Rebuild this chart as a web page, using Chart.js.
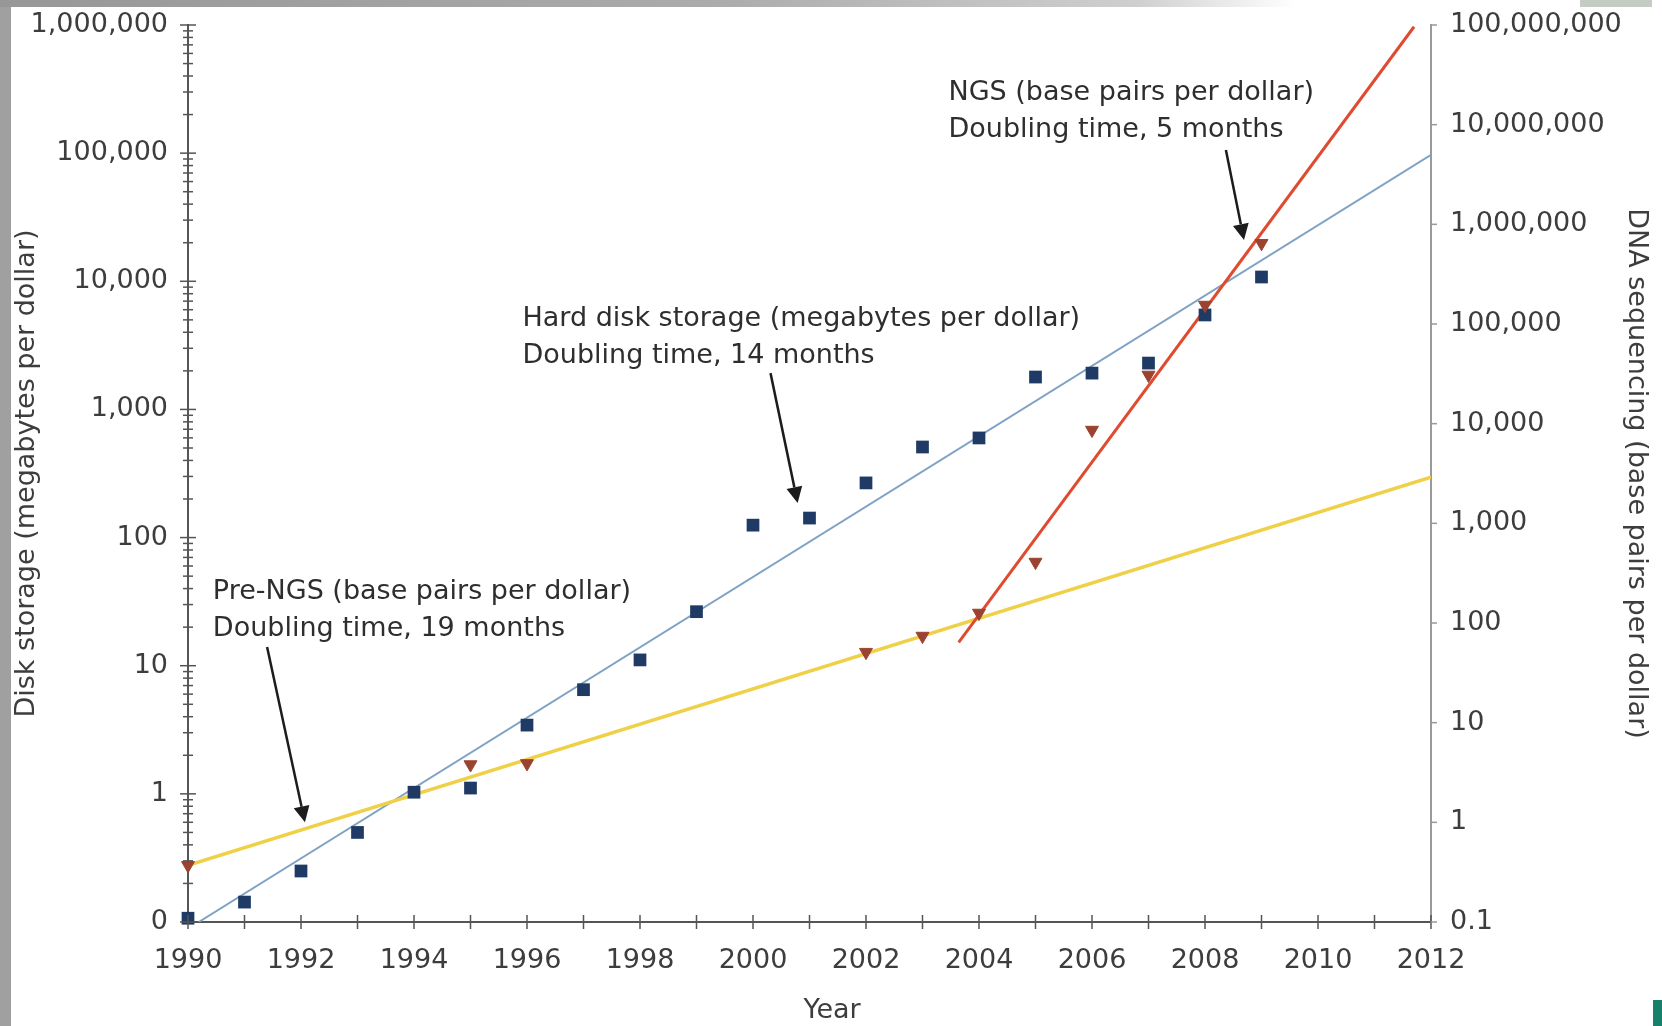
<!DOCTYPE html>
<html>
<head>
<meta charset="utf-8">
<title>Disk storage and DNA sequencing per dollar</title>
<script src="https://cdn.jsdelivr.net/npm/chart.js@4.4.1/dist/chart.umd.min.js"></script>
<style>
  html, body { margin: 0; padding: 0; background: #fff; overflow: hidden; }
  #wrap { position: relative; width: 1662px; height: 1026px; }
  .band-left { position: absolute; left: 0; top: 0; width: 11px; height: 1026px; background: #a0a0a0; }
  .band-top { position: absolute; left: 0; top: 0; width: 1580px; height: 7px;
    background: linear-gradient(to right, #979797, #ababab 45%, #cfcfcf 72%, #fff 82%); }
  .tag-top { position: absolute; left: 1580px; top: 0; width: 72px; height: 7px; background: #c4ccc4; }
  .tag-bottom { position: absolute; left: 1653px; top: 1000px; width: 9px; height: 26px; background: #14826a; }
  canvas { position: absolute; left: 0; top: 0; }
</style>
</head>
<body>
<div id="wrap">
  <div class="band-left"></div>
  <div class="band-top"></div>
  <div class="tag-top"></div>
  <div class="tag-bottom"></div>
  <canvas id="chart" width="1662" height="1026"></canvas>
</div>
<script>
// hard disk storage, megabytes per dollar (left axis)
const diskYears = [1990, 1991, 1992, 1993, 1994, 1995, 1996, 1997, 1998, 1999,
                   2000, 2001, 2002, 2003, 2004, 2005, 2006, 2007, 2008, 2009];
const diskMB = [0.107, 0.143, 0.25, 0.5, 1.03, 1.11, 3.44, 6.5, 11.1, 26.4,
                125, 142, 267, 509, 599, 1790, 1920, 2300, 5460, 10800];

// DNA sequencing, base pairs per dollar (right axis)
const dnaYears = [1990, 1995, 1996, 2002, 2003, 2004, 2005, 2006, 2007, 2008, 2009];
const dnaBP = [0.37, 3.8, 3.9, 51, 74, 126, 409, 8630, 30800, 155000, 646000];

// fitted lines, end points
const diskFitYears = [1990.19, 2012];
const diskFit = [0.1, 97000];
const preNgsFitYears = [1990, 2012];
const preNgsFit = [0.37, 2900];
const ngsFitYears = [2003.64, 2011.7];
const ngsFit = [64, 96000000];

const yearTicks = [1990, 1991, 1992, 1993, 1994, 1995, 1996, 1997, 1998, 1999, 2000, 2001,
                   2002, 2003, 2004, 2005, 2006, 2007, 2008, 2009, 2010, 2011, 2012];
const yearLabels = ['1990', '1992', '1994', '1996', '1998', '2000', '2002', '2004', '2006', '2008', '2010', '2012'];
const leftTicks = [0.1, 1, 10, 100, 1000, 10000, 100000, 1000000];
const leftLabels = ['0', '1', '10', '100', '1,000', '10,000', '100,000', '1,000,000'];
const rightTicks = [0.1, 1, 10, 100, 1000, 10000, 100000, 1000000, 10000000, 100000000];
const rightLabels = ['0.1', '1', '10', '100', '1,000', '10,000', '100,000', '1,000,000', '10,000,000', '100,000,000'];

// text notes, placed in data units (year, left axis value)
const notes = [
  { lines: ['Pre-NGS (base pairs per dollar)', 'Doubling time, 19 months'],
    at: [1990.44, 37.6], from: [1991.40, 14.0], to: [1992.07, 0.60] },
  { lines: ['Hard disk storage (megabytes per dollar)', 'Doubling time, 14 months'],
    at: [1995.92, 5080], from: [2000.31, 1920], to: [2000.79, 186] },
  { lines: ['NGS (base pairs per dollar)', 'Doubling time, 5 months'],
    at: [2003.46, 295000], from: [2008.37, 106000], to: [2008.69, 21000] }
];
const xTitle = { text: 'Year', at: 2001.4 };

const pts = (xs, ys) => xs.map((x, i) => ({ x: x, y: ys[i] }));
const same = (a, b) => Math.abs(a - b) < Math.abs(b) * 1e-9;

function withMinors(majors) {
  const out = [];
  majors.forEach((m, i) => {
    out.push(m);
    if (i < majors.length - 1) for (let k = 2; k <= 9; k++) out.push(m * k);
  });
  return out;
}

function arrow(ctx, x0, y0, x1, y1) {
  const a = Math.atan2(y1 - y0, x1 - x0), head = 16, half = 8;
  const bx = x1 - head * Math.cos(a), by = y1 - head * Math.sin(a);
  ctx.strokeStyle = '#1c1c1c';
  ctx.fillStyle = '#1c1c1c';
  ctx.lineWidth = 2.5;
  ctx.beginPath(); ctx.moveTo(x0, y0); ctx.lineTo(bx, by); ctx.stroke();
  ctx.beginPath();
  ctx.moveTo(x1, y1);
  ctx.lineTo(bx + half * Math.sin(a), by - half * Math.cos(a));
  ctx.lineTo(bx - half * Math.sin(a), by + half * Math.cos(a));
  ctx.closePath(); ctx.fill();
}

// vertical axes: keep label overhang from pushing the plot area down
function fixWidth(w) {
  return axis => { axis.width = w; axis.paddingTop = 0; axis.paddingBottom = 0; };
}

const extras = {
  id: 'extras',
  afterDraw(chart) {
    const { ctx, scales: { x, y, y2 } } = chart;
    ctx.save();
    // tick marks crossing the axes
    ctx.lineWidth = 1.5;
    ctx.strokeStyle = '#555';
    y.ticks.forEach(t => {
      const py = y.getPixelForValue(t.value);
      const len = leftTicks.some(v => same(t.value, v)) ? 8 : 5;
      ctx.beginPath(); ctx.moveTo(y.right - len, py); ctx.lineTo(y.right + len, py); ctx.stroke();
    });
    x.ticks.forEach(t => {
      const px = x.getPixelForValue(t.value);
      ctx.beginPath(); ctx.moveTo(px, x.top - 7); ctx.lineTo(px, x.top + 7); ctx.stroke();
    });
    ctx.strokeStyle = '#999';
    y2.ticks.forEach(t => {
      const py = y2.getPixelForValue(t.value);
      ctx.beginPath(); ctx.moveTo(y2.left, py); ctx.lineTo(y2.left + 6, py); ctx.stroke();
    });
    // x axis title
    ctx.font = '27px "DejaVu Sans"';
    ctx.fillStyle = '#3d3d3d';
    ctx.textAlign = 'center';
    ctx.textBaseline = 'middle';
    ctx.fillText(xTitle.text, x.getPixelForValue(xTitle.at), x.bottom - 15);
    // notes and arrows
    ctx.textAlign = 'left';
    notes.forEach(n => {
      const tx = x.getPixelForValue(n.at[0]), ty = y.getPixelForValue(n.at[1]);
      ctx.fillStyle = '#2e2e2e';
      n.lines.forEach((s, i) => ctx.fillText(s, tx, ty + i * 37));
      arrow(ctx, x.getPixelForValue(n.from[0]), y.getPixelForValue(n.from[1]),
                 x.getPixelForValue(n.to[0]), y.getPixelForValue(n.to[1]));
    });
    ctx.restore();
  }
};

Chart.defaults.font.family = '"DejaVu Sans"';
Chart.defaults.font.size = 27;
Chart.defaults.color = '#3d3d3d';

new Chart(document.getElementById('chart'), {
  type: 'scatter',
  data: {
    datasets: [
      { label: 'DNA sequencing', data: pts(dnaYears, dnaBP), yAxisID: 'y2', order: 0, clip: false,
        pointStyle: 'triangle', pointRotation: 180, pointRadius: 7.5,
        pointBackgroundColor: '#9c4230', pointBorderColor: '#9c4230', pointBorderWidth: 1 },
      { label: 'Disk storage', data: pts(diskYears, diskMB), yAxisID: 'y', order: 1, clip: false,
        pointStyle: 'rect', pointRadius: 9,
        pointBackgroundColor: '#1f3a64', pointBorderColor: '#1f3a64', pointBorderWidth: 0 },
      { label: 'NGS fit', data: pts(ngsFitYears, ngsFit), yAxisID: 'y2', order: 2,
        showLine: true, borderColor: '#df4b2f', borderWidth: 3, pointRadius: 0 },
      { label: 'Pre-NGS fit', data: pts(preNgsFitYears, preNgsFit), yAxisID: 'y2', order: 3,
        showLine: true, borderColor: '#f0d046', borderWidth: 3.5, pointRadius: 0 },
      { label: 'Disk fit', data: pts(diskFitYears, diskFit), yAxisID: 'y', order: 4,
        showLine: true, borderColor: '#7fa3c4', borderWidth: 2, pointRadius: 0 }
    ]
  },
  options: {
    responsive: false,
    devicePixelRatio: 1,
    animation: false,
    layout: { padding: { top: 25, left: 0, right: 0, bottom: 0 } },
    plugins: { legend: { display: false }, tooltip: { enabled: false } },
    scales: {
      x: {
        type: 'linear', min: 1990, max: 2012,
        afterBuildTicks: axis => { axis.ticks = yearTicks.map(v => ({ value: v })); },
        afterFit: axis => { axis.height = 104; },
        grid: { display: false, drawTicks: false },
        border: { display: true, color: '#555', width: 2 },
        ticks: { autoSkip: false, maxRotation: 0, padding: 23,
          callback: v => yearLabels.includes(String(v)) ? String(v) : '' }
      },
      y: {
        type: 'logarithmic', position: 'left', min: 0.1, max: 1000000,
        afterBuildTicks: axis => { axis.ticks = withMinors(leftTicks).map(v => ({ value: v })); },
        afterFit: fixWidth(188),
        grid: { display: false, drawTicks: false },
        border: { display: true, color: '#555', width: 2 },
        ticks: { autoSkip: false, padding: 20,
          callback: v => { const j = leftTicks.findIndex(t => same(v, t)); return j < 0 ? '' : leftLabels[j]; } },
        title: { display: true, text: 'Disk storage (megabytes per dollar)', padding: { top: 11, bottom: 0 } }
      },
      y2: {
        type: 'logarithmic', position: 'right', min: 0.1, max: 100000000,
        afterBuildTicks: axis => { axis.ticks = rightTicks.map(v => ({ value: v })); },
        afterFit: fixWidth(231),
        grid: { display: false, drawTicks: false },
        border: { display: true, color: '#9a9a9a', width: 2 },
        ticks: { autoSkip: false, padding: 19,
          callback: v => { const j = rightTicks.findIndex(t => same(v, t)); return j < 0 ? '' : rightLabels[j]; } },
        title: { display: true, text: 'DNA sequencing (base pairs per dollar)', padding: { top: 10, bottom: 0 } }
      }
    }
  },
  plugins: [extras]
});
</script>
</body>
</html>
